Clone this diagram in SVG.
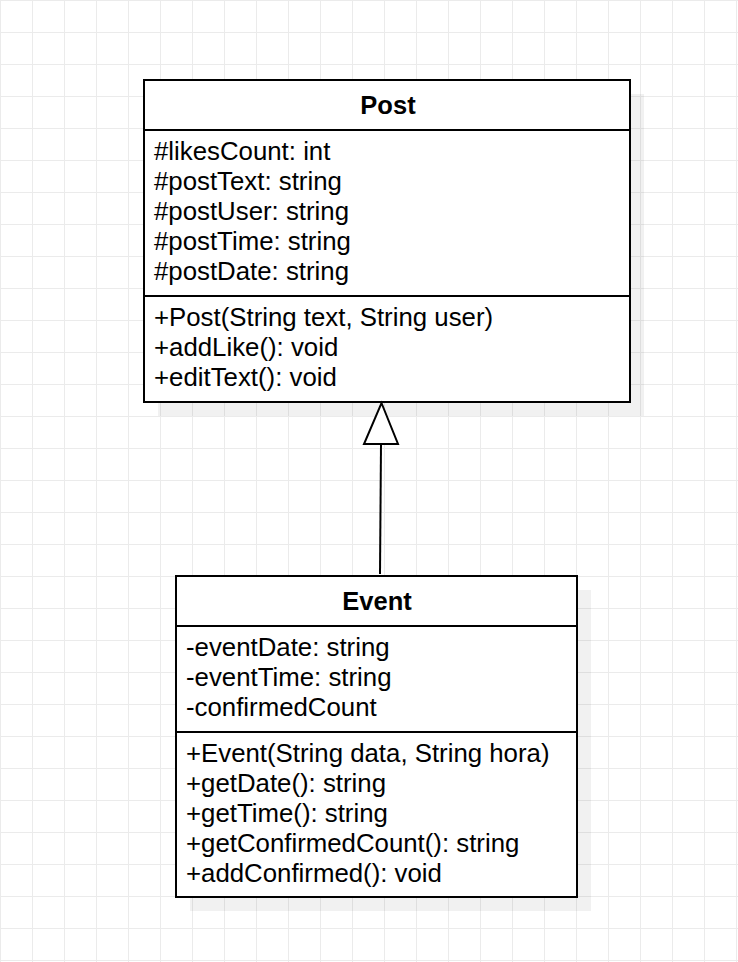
<svg xmlns="http://www.w3.org/2000/svg" width="738" height="962" viewBox="0 0 738 962">
<defs>
<pattern id="grid" width="32" height="32" patternUnits="userSpaceOnUse">
<path d="M0.5 0V32M0 0.5H32" fill="none" stroke="#ebebeb" stroke-width="1"/>
</pattern>
<style>
.box{fill:#fff;stroke:#000;stroke-width:2}
.sep{stroke:#000;stroke-width:2}
.shadow{fill:#000;fill-opacity:0.055}
.title{font-family:"Liberation Sans",Arial,sans-serif;font-size:25.5px;font-weight:bold;text-anchor:middle;fill:#000}
.t{font-family:"Liberation Sans",Arial,sans-serif;font-size:25.8px;fill:#000}
.edge{fill:none;stroke:#000;stroke-width:2}
</style>
</defs>
<rect width="738" height="962" fill="#fff"/>
<rect width="738" height="962" fill="url(#grid)"/>
<g id="Post">
<rect class="shadow" x="158" y="94" width="486" height="322"/>
<rect class="box" x="144" y="80" width="486" height="322"/>
<line class="sep" x1="144" y1="130" x2="630" y2="130"/>
<line class="sep" x1="144" y1="296" x2="630" y2="296"/>
<text class="title" x="388" y="114">Post</text>
<text class="t"><tspan x="154" y="160">#likesCount: int</tspan><tspan x="154" y="190">#postText: string</tspan><tspan x="154" y="220">#postUser: string</tspan><tspan x="154" y="250">#postTime: string</tspan><tspan x="154" y="280">#postDate: string</tspan></text>
<text class="t"><tspan x="154" y="326">+Post(String text, String user)</tspan><tspan x="154" y="356">+addLike(): void</tspan><tspan x="154" y="386">+editText(): void</tspan></text>
</g>
<g id="Event">
<rect class="shadow" x="190" y="590" width="401" height="321"/>
<rect class="box" x="176" y="576" width="401" height="321"/>
<line class="sep" x1="176" y1="626" x2="577" y2="626"/>
<line class="sep" x1="176" y1="732" x2="577" y2="732"/>
<text class="title" x="377" y="610">Event</text>
<text class="t"><tspan x="186" y="656">-eventDate: string</tspan><tspan x="186" y="686">-eventTime: string</tspan><tspan x="186" y="716">-confirmedCount</tspan></text>
<text class="t"><tspan x="186" y="762">+Event(String data, String hora)</tspan><tspan x="186" y="792">+getDate(): string</tspan><tspan x="186" y="822">+getTime(): string</tspan><tspan x="186" y="852">+getConfirmedCount(): string</tspan><tspan x="186" y="882">+addConfirmed(): void</tspan></text>
</g>
<g id="connectors">
<path class="edge" d="M380 574L381 444"/>
<path class="edge" d="M381.5 403L398 444H364Z" style="fill:#fff"/>
</g>
</svg>
